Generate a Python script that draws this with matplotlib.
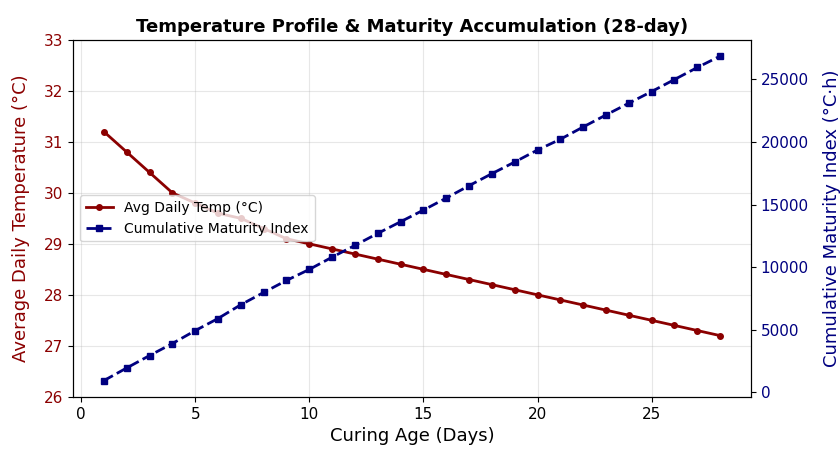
import matplotlib
matplotlib.use('Agg')
from matplotlib import pyplot as plt

days = list(range(1, 29))
avg_temp = [31.2, 30.8, 30.4, 30.0, 29.8, 29.6, 29.5, 29.3, 29.1, 29.0,
            28.9, 28.8, 28.7, 28.6, 28.5, 28.4, 28.3, 28.2, 28.1, 28.0,
            27.9, 27.8, 27.7, 27.6, 27.5, 27.4, 27.3, 27.2]
maturity = [940, 1950, 2940, 3900, 4930, 5900, 7000, 7980, 8940, 9820,
            10800, 11740, 12700, 13630, 14560, 15520, 16510, 17470, 18400, 19360,
            20220, 21200, 22160, 23100, 24030, 24990, 25950, 26860]

temp_color = '#8B0000'
mat_color = '#000080'

fig, ax1 = plt.subplots(figsize=(8.4, 4.53), dpi=100)
fig.subplots_adjust(left=0.087, right=0.894, top=0.912, bottom=0.124)

l1 = ax1.plot(days, avg_temp, color=temp_color, marker='o', markersize=4,
              linewidth=2, label='Avg Daily Temp (°C)')
ax1.set_ylim(26, 33)
ax1.set_xlabel('Curing Age (Days)', fontsize=13)
ax1.set_ylabel('Average Daily Temperature (°C)', color=temp_color, fontsize=13, labelpad=10)
ax1.tick_params(axis='y', labelcolor=temp_color, labelsize=11)
ax1.tick_params(axis='x', labelsize=11)
ax1.grid(True, alpha=0.3)

ax2 = ax1.twinx()
l2 = ax2.plot(days, maturity, color=mat_color, marker='s', markersize=4,
              linewidth=2, linestyle='--', label='Cumulative Maturity Index')
ax2.set_ylabel('Cumulative Maturity Index (°C·h)', color=mat_color, fontsize=13, labelpad=10)
ax2.tick_params(axis='y', labelcolor=mat_color, labelsize=11)

lines = l1 + l2
ax1.legend(lines, [l.get_label() for l in lines], loc='center left', fontsize=10)

plt.title('Temperature Profile & Maturity Accumulation (28-day)', fontsize=13, fontweight='bold')
plt.savefig('out.png')
